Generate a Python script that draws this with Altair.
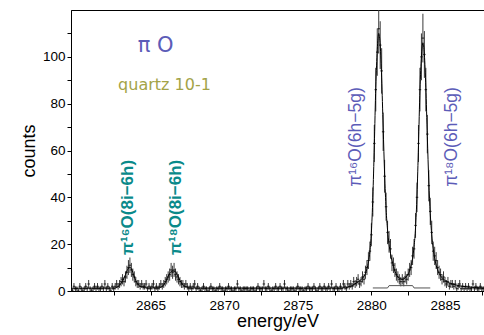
import altair as alt
import pandas as pd

# ---------------- data ----------------
E0 = 2859.6          # first bin centre (eV)
STEP = 0.1           # bin width (eV)
counts = [
    1, 0, 2, 1, 1, 0, 2, 1, 0, 1,
    2, 1, 3, 1, 0, 1, 2, 1, 2, 1,
    1, 2, 1, 3, 1, 2, 1, 0, 2, 1,
    2, 3, 2, 3, 4, 5, 4, 6, 8, 10,
    11, 9, 7, 6, 4, 3, 3, 2, 3, 2,
    2, 3, 1, 2, 1, 2, 3, 1, 2, 1,
    2, 3, 2, 3, 4, 5, 6, 7, 9, 8,
    9, 7, 6, 5, 4, 3, 3, 2, 3, 2,
    1, 2, 1, 2, 3, 1, 2, 1, 0, 1,
    2, 1, 1, 0, 1, 2, 1, 1, 0, 1,
    1, 2, 1, 1, 0, 1, 1, 2, 1, 1,
    0, 1, 1, 3, 1, 1, 0, 1, 1, 1,
    1, 0, 1, 1, 1, 0, 1, 2, 1, 1,
    1, 3, 1, 1, 2, 1, 0, 1, 1, 2,
    1, 1, 2, 1, 1, 3, 1, 1, 0, 1,
    1, 1, 0, 1, 2, 1, 1, 1, 0, 1,
    1, 2, 1, 1, 1, 2, 1, 0, 1, 2,
    1, 1, 2, 1, 1, 2, 1, 3, 1, 1,
    2, 1, 1, 2, 1, 3, 2, 1, 3, 2,
    3, 2, 4, 3, 4, 5, 3, 4, 6, 5,
    8, 10, 13, 17, 24, 38, 63, 86, 102, 112,
    105, 94, 68, 49, 36, 25, 21, 18, 12, 11,
    9, 7, 6, 5, 4, 5, 4, 6, 5, 7,
    9, 10, 15, 18, 28, 40, 63, 86, 100, 108,
    101, 86, 67, 45, 34, 25, 17, 15, 13, 10,
    8, 7, 5, 6, 4, 3, 4, 2, 3, 3,
    2, 3, 1, 2, 3, 1, 2, 1, 2, 1,
    2, 1, 1, 3, 1, 2, 1, 1, 2, 1,
    1,
]
errors = [
    1, 1, 1.4, 1, 1, 1, 1.4, 1, 1, 1,
    1.4, 1, 1.7, 1, 1, 1, 1.4, 1, 1.4, 1,
    1, 1.4, 1, 1.7, 1, 1.4, 1, 1, 1.4, 1,
    1.4, 1.7, 1.4, 1.7, 2, 2.2, 2, 2.4, 2.8, 3.2,
    3.3, 3, 2.6, 2.4, 2, 1.7, 1.7, 1.4, 1.7, 1.4,
    1.4, 1.7, 1, 1.4, 1, 1.4, 1.7, 1, 1.4, 1,
    1.4, 1.7, 1.4, 1.7, 2, 2.2, 2.4, 2.6, 3, 2.8,
    3, 2.6, 2.4, 2.2, 2, 1.7, 1.7, 1.4, 1.7, 1.4,
    1, 1.4, 1, 1.4, 1.7, 1, 1.4, 1, 1, 1,
    1.4, 1, 1, 1, 1, 1.4, 1, 1, 1, 1,
    1, 1.4, 1, 1, 1, 1, 1, 1.4, 1, 1,
    1, 1, 1, 1.7, 1, 1, 1, 1, 1, 1,
    1, 1, 1, 1, 1, 1, 1, 1.4, 1, 1,
    1, 1.7, 1, 1, 1.4, 1, 1, 1, 1, 1.4,
    1, 1, 1.4, 1, 1, 1.7, 1, 1, 1, 1,
    1, 1, 1, 1, 1.4, 1, 1, 1, 1, 1,
    1, 1.4, 1, 1, 1, 1.4, 1, 1, 1, 1.4,
    1, 1, 1.4, 1, 1, 1.4, 1, 1.7, 1, 1,
    1.4, 1, 1, 1.4, 1, 1.7, 1.4, 1, 1.7, 1.4,
    1.7, 1.4, 2, 1.7, 2, 2.2, 1.7, 2, 2.4, 2.2,
    2.8, 3.2, 3.6, 4.1, 4.9, 6.2, 7.9, 9.3, 10.1, 10.6,
    10.2, 9.7, 8.2, 7, 6, 5, 4.6, 4.2, 3.5, 3.3,
    3, 2.6, 2.4, 2.2, 2, 2.2, 2, 2.4, 2.2, 2.6,
    3, 3.2, 3.9, 4.2, 5.3, 6.3, 7.9, 9.3, 10, 10.4,
    10, 9.3, 8.2, 6.7, 5.8, 5, 4.1, 3.9, 3.6, 3.2,
    2.8, 2.6, 2.2, 2.4, 2, 1.7, 2, 1.4, 1.7, 1.7,
    1.4, 1.7, 1, 1.4, 1.7, 1, 1.4, 1, 1.4, 1,
    1.4, 1, 1, 1.7, 1, 1.4, 1, 1, 1.4, 1,
    1,
]

fit_e = [2859.6, 2862.6, 2862.9, 2863.1, 2863.3, 2863.5, 2863.6, 2863.7, 2863.9, 2864.1, 2864.4, 2864.8,
         2865.6, 2865.9, 2866.1, 2866.3, 2866.5, 2866.7, 2866.9, 2867.1, 2867.4, 2867.8,
         2878.0, 2878.5, 2879.0, 2879.2, 2879.4, 2879.6, 2879.7, 2879.8, 2879.9,
         2880.0, 2880.1, 2880.2, 2880.3, 2880.4, 2880.5, 2880.6, 2880.7, 2880.8, 2880.9,
         2881.0, 2881.1, 2881.2, 2881.3, 2881.4, 2881.5, 2881.6, 2881.7, 2881.8, 2881.9,
         2882.0, 2882.1, 2882.2, 2882.3, 2882.4, 2882.5, 2882.6, 2882.7, 2882.8, 2882.9,
         2883.0, 2883.1, 2883.2, 2883.3, 2883.4, 2883.5, 2883.6, 2883.7, 2883.8, 2883.9,
         2884.0, 2884.1, 2884.2, 2884.3, 2884.4, 2884.5,
         2884.7, 2885.0, 2885.5, 2886.0, 2887.0, 2887.65]
fit_c = [1.2, 1.3, 2.5, 4.2, 7.0, 9.8, 10.2, 9.5, 6.0, 3.2, 1.8, 1.3,
         1.4, 2.6, 4.8, 7.5, 8.6, 8.2, 5.8, 3.4, 1.8, 1.3,
         1.3, 1.8, 3.5, 4.3, 5.5, 7.5, 9.5, 12.5, 17,
         25, 40, 62, 87, 103, 110, 105, 91, 70, 50,
         35, 26, 20, 16, 13, 10.5, 8.5, 7, 6, 5.5,
         5.2, 5, 5.2, 5.6, 6.3, 7.3, 8.8, 11, 14, 19,
         27, 41, 62, 86, 100, 106, 101, 87, 66, 47,
         33, 24, 18, 14, 11, 9,
         6.5, 4.5, 3, 2.2, 1.5, 1.3]

comp_e = [2880.1, 2881.1, 2881.2, 2882.8, 2882.9, 2884.0]
comp_c = [1.3, 1.3, 2.3, 2.3, 1.3, 1.3]

x_ticks = [2862.5, 2865, 2867.5, 2870, 2872.5, 2875, 2877.5, 2880, 2882.5, 2885, 2887.5]
y_ticks = [0, 10, 20, 30, 40, 50, 60, 70, 80, 90, 100, 110]

teal_labels = ["π¹⁶O(8i−6h)", "π¹⁸O(8i−6h)"]
teal_x = [2863.5, 2866.7]
teal_y = [15.4, 15.4]

blue_labels = ["π¹⁶O(6h−5g)", "π¹⁸O(6h−5g)"]
blue_x = [2878.95, 2885.5]
blue_y = [44.5, 44.5]

name_text = ["π O"]
name_x = [2865.35]
name_y = [104.5]

sample_text = ["quartz 10-1"]
sample_x = [2865.95]
sample_y = [88.0]

# ---------------- tables ----------------
spec = pd.DataFrame({
    "energy": [round(E0 + STEP * i, 2) for i in range(len(counts))],
    "counts": counts,
    "err": errors,
})
spec["lo"] = spec["counts"] - spec["err"]
spec["hi"] = spec["counts"] + spec["err"]
fit = pd.DataFrame({"energy": fit_e, "counts": fit_c})
comp = pd.DataFrame({"energy": comp_e, "counts": comp_c})
teal = pd.DataFrame({"energy": teal_x, "counts": teal_y, "t": teal_labels})
blue = pd.DataFrame({"energy": blue_x, "counts": blue_y, "t": blue_labels})
name = pd.DataFrame({"energy": name_x, "counts": name_y, "t": name_text})
sample = pd.DataFrame({"energy": sample_x, "counts": sample_y, "t": sample_text})

FONT = "Liberation Sans"
xs = alt.Scale(domain=[2859.6, 2887.65], nice=False, zero=False)
ys = alt.Scale(domain=[0, 120], nice=False)

x_axis = alt.Axis(values=x_ticks, title="energy/eV", grid=False,
                  labelExpr="datum.value % 5 == 0 ? format(datum.value, 'd') : ''",
                  tickSize=4, labelFontSize=13.5, titleFontSize=18, titleFont=FONT,
                  labelFont=FONT, labelColor="black", titleColor="black",
                  domainColor="black", tickColor="black", titleFontWeight="normal",
                  labelPadding=3, titlePadding=1, labelFlush=False)
y_axis = alt.Axis(values=y_ticks, title="counts", grid=False,
                  labelExpr="datum.value % 20 == 0 ? format(datum.value, 'd') : ''",
                  tickSize=4, labelFontSize=13.5, titleFontSize=18, titleFont=FONT,
                  labelFont=FONT, labelColor="black", titleColor="black",
                  domainColor="black", tickColor="black", titleFontWeight="normal",
                  labelPadding=2, titlePadding=4, labelFlush=False)

base_x = alt.X("energy:Q", scale=xs, axis=x_axis)
base_y = alt.Y("counts:Q", scale=ys, axis=y_axis)

bars = alt.Chart(spec).mark_rule(color="#3a3a3a", strokeWidth=1, clip=True).encode(
    x=base_x, y=alt.Y("lo:Q", scale=ys, axis=y_axis), y2="hi:Q")
pts = alt.Chart(spec).mark_tick(color="black", orient="horizontal", size=2.5,
                                thickness=1.2, clip=True).encode(x=base_x, y=base_y)
fit_line = alt.Chart(fit).mark_line(color="black", strokeWidth=1, clip=True,
                                    interpolate="monotone").encode(x=base_x, y=base_y)
comp_line = alt.Chart(comp).mark_line(color="#555555", strokeWidth=1, clip=True).encode(
    x=base_x, y=base_y)

teal_txt = alt.Chart(teal).mark_text(angle=270, align="left", baseline="middle",
                                     font=FONT, fontSize=17, fontWeight="bold",
                                     color="#0a8a8a").encode(x=base_x, y=base_y, text="t:N")
blue_txt = alt.Chart(blue).mark_text(angle=270, align="left", baseline="middle",
                                     font=FONT, fontSize=17.5,
                                     color="#5c5cb8").encode(x=base_x, y=base_y, text="t:N")
name_txt = alt.Chart(name).mark_text(align="center", baseline="middle", font="DejaVu Sans",
                                     fontSize=21, color="#5c5cb8").encode(
    x=base_x, y=base_y, text="t:N")
sample_txt = alt.Chart(sample).mark_text(align="center", baseline="middle", font="DejaVu Sans",
                                         fontSize=16, color="#a3a347").encode(
    x=base_x, y=base_y, text="t:N")

chart = alt.layer(bars, pts, comp_line, fit_line, teal_txt, blue_txt, name_txt, sample_txt).properties(
    width=413, height=281,
    autosize=alt.AutoSizeParams(type="none"),
    padding={"left": 71, "top": 10, "right": 0, "bottom": 44},
    background="white",
).configure_view(stroke="black", strokeWidth=1)

chart.save("out.html", embed_options={"renderer": "svg", "actions": False})
